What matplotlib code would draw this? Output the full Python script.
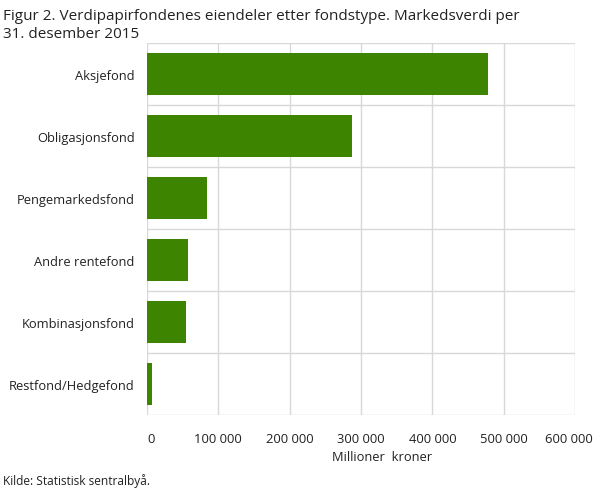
import matplotlib
matplotlib.use("Agg")
import matplotlib.pyplot as plt
from matplotlib.ticker import FuncFormatter
import matplotlib.transforms as mtransforms

categories = ["Aksjefond", "Obligasjonsfond", "Pengemarkedsfond",
              "Andre rentefond", "Kombinasjonsfond", "Restfond/Hedgefond"]
values = [478000, 287500, 84000, 57500, 54500, 7000]
xticks = [0, 100000, 200000, 300000, 400000, 500000, 600000]

plt.rcParams['font.family'] = ['Open Sans', 'DejaVu Sans']

W, H = 609, 489
fig = plt.figure(figsize=(W / 100, H / 100), dpi=100)
left, right, top, bottom = 147, 575, 44, 416
ax = fig.add_axes([left / W, 1 - bottom / H, (right - left) / W, (bottom - top) / H])

n = len(categories)
ypos = list(range(n))
ax.barh(ypos, values, height=0.69, color="#3d8400", zorder=3)
ax.set_ylim(n - 0.5, -0.5)
ax.set_xlim(0, 600000)

ax.set_xticks(xticks)
ax.xaxis.set_major_formatter(FuncFormatter(lambda v, p: f"{int(v):,}".replace(",", " ")))
ax.set_yticks(ypos)
ax.set_yticklabels(categories)
ax.set_yticks([i - 0.5 for i in range(n + 1)], minor=True)

ax.grid(axis="x", which="major", color="#d8d8d8", linewidth=1, zorder=0)
ax.grid(axis="y", which="minor", color="#d8d8d8", linewidth=1, zorder=0)
ax.grid(axis="y", which="major", visible=False)
for s in ax.spines.values():
    s.set_visible(False)
ax.tick_params(axis="both", which="both", length=0)
ax.tick_params(axis="x", labelsize=9.4, labelcolor="#222222", pad=12)
ax.tick_params(axis="y", labelsize=9.3, labelcolor="#222222", pad=9)

labels = ax.get_xticklabels()
labels[0].set_transform(labels[0].get_transform() + mtransforms.ScaledTranslation(4 / 100, 0, fig.dpi_scale_trans))
labels[-1].set_transform(labels[-1].get_transform() + mtransforms.ScaledTranslation(-6 / 100, 0, fig.dpi_scale_trans))

fig.text(382 / W, 1 - 458 / H, "Millioner  kroner", ha="center", va="center", fontsize=9.3, color="#222222")
fig.text(3 / W, 1 - 17 / H, "Figur 2. Verdipapirfondenes eiendeler etter fondstype. Markedsverdi per",
         ha="left", va="center", fontsize=11.0, color="#222222")
fig.text(3 / W, 1 - 35 / H, "31. desember 2015", ha="left", va="center", fontsize=11.0, color="#222222")
fig.text(3 / W, 1 - 481 / H, "Kilde: Statistisk sentralbyå.", ha="left", va="center", fontsize=8.6, color="#222222")

fig.savefig("out.png", dpi=100)
